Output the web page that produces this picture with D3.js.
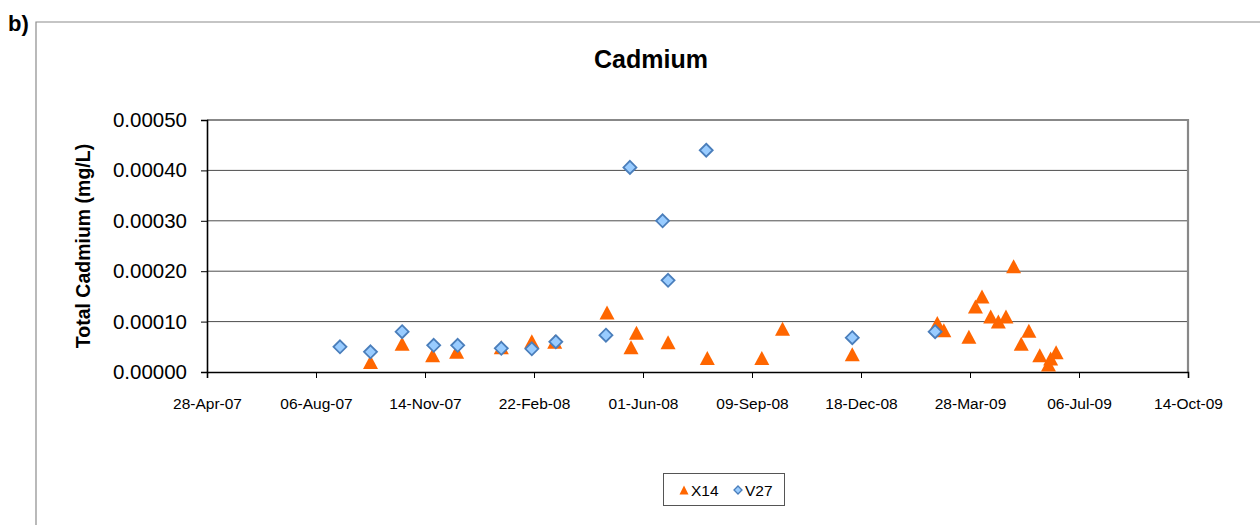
<!DOCTYPE html>
<html>
<head>
<meta charset="utf-8">
<script src="https://cdn.jsdelivr.net/npm/d3@7"></script>
<style>
  html, body { margin: 0; padding: 0; background: #fff; }
  svg { display: block; font-family: "Liberation Sans", Arial, sans-serif; }
</style>
</head>
<body>
<svg id="chart" width="1260" height="525"></svg>
<script>
// ---------- data ----------
const x14Dates = ["2007-09-25","2007-10-24","2007-11-21","2007-12-13","2008-01-23","2008-02-20","2008-03-12",
  "2008-04-29","2008-05-21","2008-05-26","2008-06-24","2008-07-30","2008-09-18","2008-10-07","2008-12-10",
  "2009-02-26","2009-03-04","2009-03-27","2009-04-02","2009-04-08","2009-04-16","2009-04-23","2009-04-30",
  "2009-05-07","2009-05-14","2009-05-21","2009-05-31","2009-06-08","2009-06-10","2009-06-15"];
const x14Values = [0.000020,0.000056,0.000033,0.000040,0.000049,0.000061,0.000060,
  0.000118,0.000049,0.000078,0.000059,0.000028,0.000028,0.000086,0.000035,
  0.000097,0.000083,0.000070,0.000130,0.000150,0.000110,0.000100,0.000110,
  0.000210,0.000056,0.000082,0.000033,0.000015,0.000027,0.000039];

const v27Dates = ["2007-08-28","2007-09-25","2007-10-24","2007-11-22","2007-12-14","2008-01-23","2008-02-20",
  "2008-03-13","2008-04-28","2008-05-20","2008-06-19","2008-06-24","2008-07-29","2008-12-10","2009-02-24"];
const v27Values = [0.000050,0.000040,0.000080,0.000053,0.000053,0.000047,0.000046,
  0.000060,0.000073,0.000406,0.000300,0.000182,0.000440,0.000068,0.000080];

const xTickLabels = ["28-Apr-07","06-Aug-07","14-Nov-07","22-Feb-08","01-Jun-08","09-Sep-08",
  "18-Dec-08","28-Mar-09","06-Jul-09","14-Oct-09"];
const yTickValues = [0, 0.0001, 0.0002, 0.0003, 0.0004, 0.0005];

const seriesNames = ["X14", "V27"];
const titleText = "Cadmium";
const yLabelText = "Total Cadmium (mg/L)";
const panelLabel = "b)";

// ---------- setup ----------
const svg = d3.select("#chart");
const parseISO = d3.timeParse("%Y-%m-%d");
const parseTick = d3.timeParse("%d-%b-%y");
const fmtTick = d3.timeFormat("%d-%b-%y");
const tickDates = xTickLabels.map(parseTick);

const plot = { left: 207, right: 1188, top: 120, bottom: 372 };

const x = d3.scaleTime()
  .domain([tickDates[0], tickDates[tickDates.length - 1]])
  .range([plot.left, plot.right]);
const y = d3.scaleLinear().domain([0, 0.0005]).range([plot.bottom, plot.top]);

const x14 = x14Dates.map((d, i) => ({ date: parseISO(d), value: x14Values[i] }));
const v27 = v27Dates.map((d, i) => ({ date: parseISO(d), value: v27Values[i] }));

// outer frame (partial chart border)
svg.append("path")
  .attr("d", "M36,525 V22 H1260")
  .attr("fill", "none").attr("stroke", "#8c8c8c").attr("stroke-width", 1.2);

svg.append("text").attr("x", 8).attr("y", 31)
  .attr("font-size", 22).attr("font-weight", "bold").attr("fill", "#000")
  .text(panelLabel);

// title
svg.append("text").attr("x", 651).attr("y", 68)
  .attr("text-anchor", "middle").attr("font-size", 25).attr("font-weight", "bold")
  .text(titleText);

// gridlines
svg.append("g").selectAll("line").data(yTickValues.slice(1, -1)).join("line")
  .attr("x1", plot.left).attr("x2", plot.right)
  .attr("y1", d => y(d)).attr("y2", d => y(d))
  .attr("stroke", "#4d4d4d").attr("stroke-width", 1);

// plot border top/right
svg.append("path")
  .attr("d", `M${plot.left},${plot.top} H${plot.right} V${plot.bottom}`)
  .attr("fill", "none").attr("stroke", "#888").attr("stroke-width", 2.2);

// y axis
const yAxis = svg.append("g").attr("transform", `translate(${plot.left},0)`)
  .call(d3.axisLeft(y).tickValues(yTickValues).tickFormat(d3.format(".5f")).tickSize(6).tickPadding(14));
yAxis.select(".domain").attr("stroke", "#000").attr("stroke-width", 1.6);
yAxis.selectAll(".tick line").attr("stroke", "#000");
yAxis.selectAll("text").attr("font-size", 20.5).attr("font-family", "Liberation Sans, Arial, sans-serif").attr("fill", "#000");

// x axis
const xAxis = svg.append("g").attr("transform", `translate(0,${plot.bottom})`)
  .call(d3.axisBottom(x).tickValues(tickDates).tickFormat(fmtTick).tickSize(6).tickPadding(20));
xAxis.select(".domain").attr("stroke", "#000").attr("stroke-width", 1.6);
xAxis.selectAll(".tick line").attr("stroke", "#000");
xAxis.selectAll("text").attr("font-size", 15.5).attr("font-family", "Liberation Sans, Arial, sans-serif").attr("fill", "#000");

// y label
svg.append("text")
  .attr("transform", `translate(90,${(plot.top + plot.bottom) / 2}) rotate(-90)`)
  .attr("text-anchor", "middle").attr("font-size", 19.5).attr("font-weight", "bold")
  .text(yLabelText);

// marker shapes
function trianglePath(w, h) {
  return `M0,${-h / 2} L${w / 2},${h / 2} L${-w / 2},${h / 2} Z`;
}
function diamondPath(s) {
  return `M0,${-s / 2} L${s / 2},0 L0,${s / 2} L${-s / 2},0 Z`;
}
const triColor = "#FF6600";
const diaFill = "#99CCFF";
const diaStroke = "#4A7EBB";

// X14 triangles
svg.append("g").selectAll("path").data(x14).join("path")
  .attr("transform", d => `translate(${x(d.date)},${y(d.value)})`)
  .attr("d", trianglePath(15, 14))
  .attr("fill", triColor);

// V27 diamonds
svg.append("g").selectAll("path").data(v27).join("path")
  .attr("transform", d => `translate(${x(d.date)},${y(d.value)})`)
  .attr("d", diamondPath(13))
  .attr("fill", diaFill).attr("stroke", diaStroke).attr("stroke-width", 1.8);

// legend
const lg = svg.append("g");
lg.append("rect").attr("x", 663.5).attr("y", 473.5).attr("width", 121).attr("height", 32)
  .attr("fill", "#fff").attr("stroke", "#555").attr("stroke-width", 1);
lg.append("path").attr("transform", "translate(684,490)").attr("d", trianglePath(9, 9)).attr("fill", triColor);
lg.append("text").attr("x", 691).attr("y", 496).attr("font-size", 15.5).text(seriesNames[0]);
lg.append("path").attr("transform", "translate(738,490)").attr("d", diamondPath(8))
  .attr("fill", diaFill).attr("stroke", diaStroke).attr("stroke-width", 1.3);
lg.append("text").attr("x", 745).attr("y", 496).attr("font-size", 15.5).text(seriesNames[1]);
</script>
</body>
</html>
